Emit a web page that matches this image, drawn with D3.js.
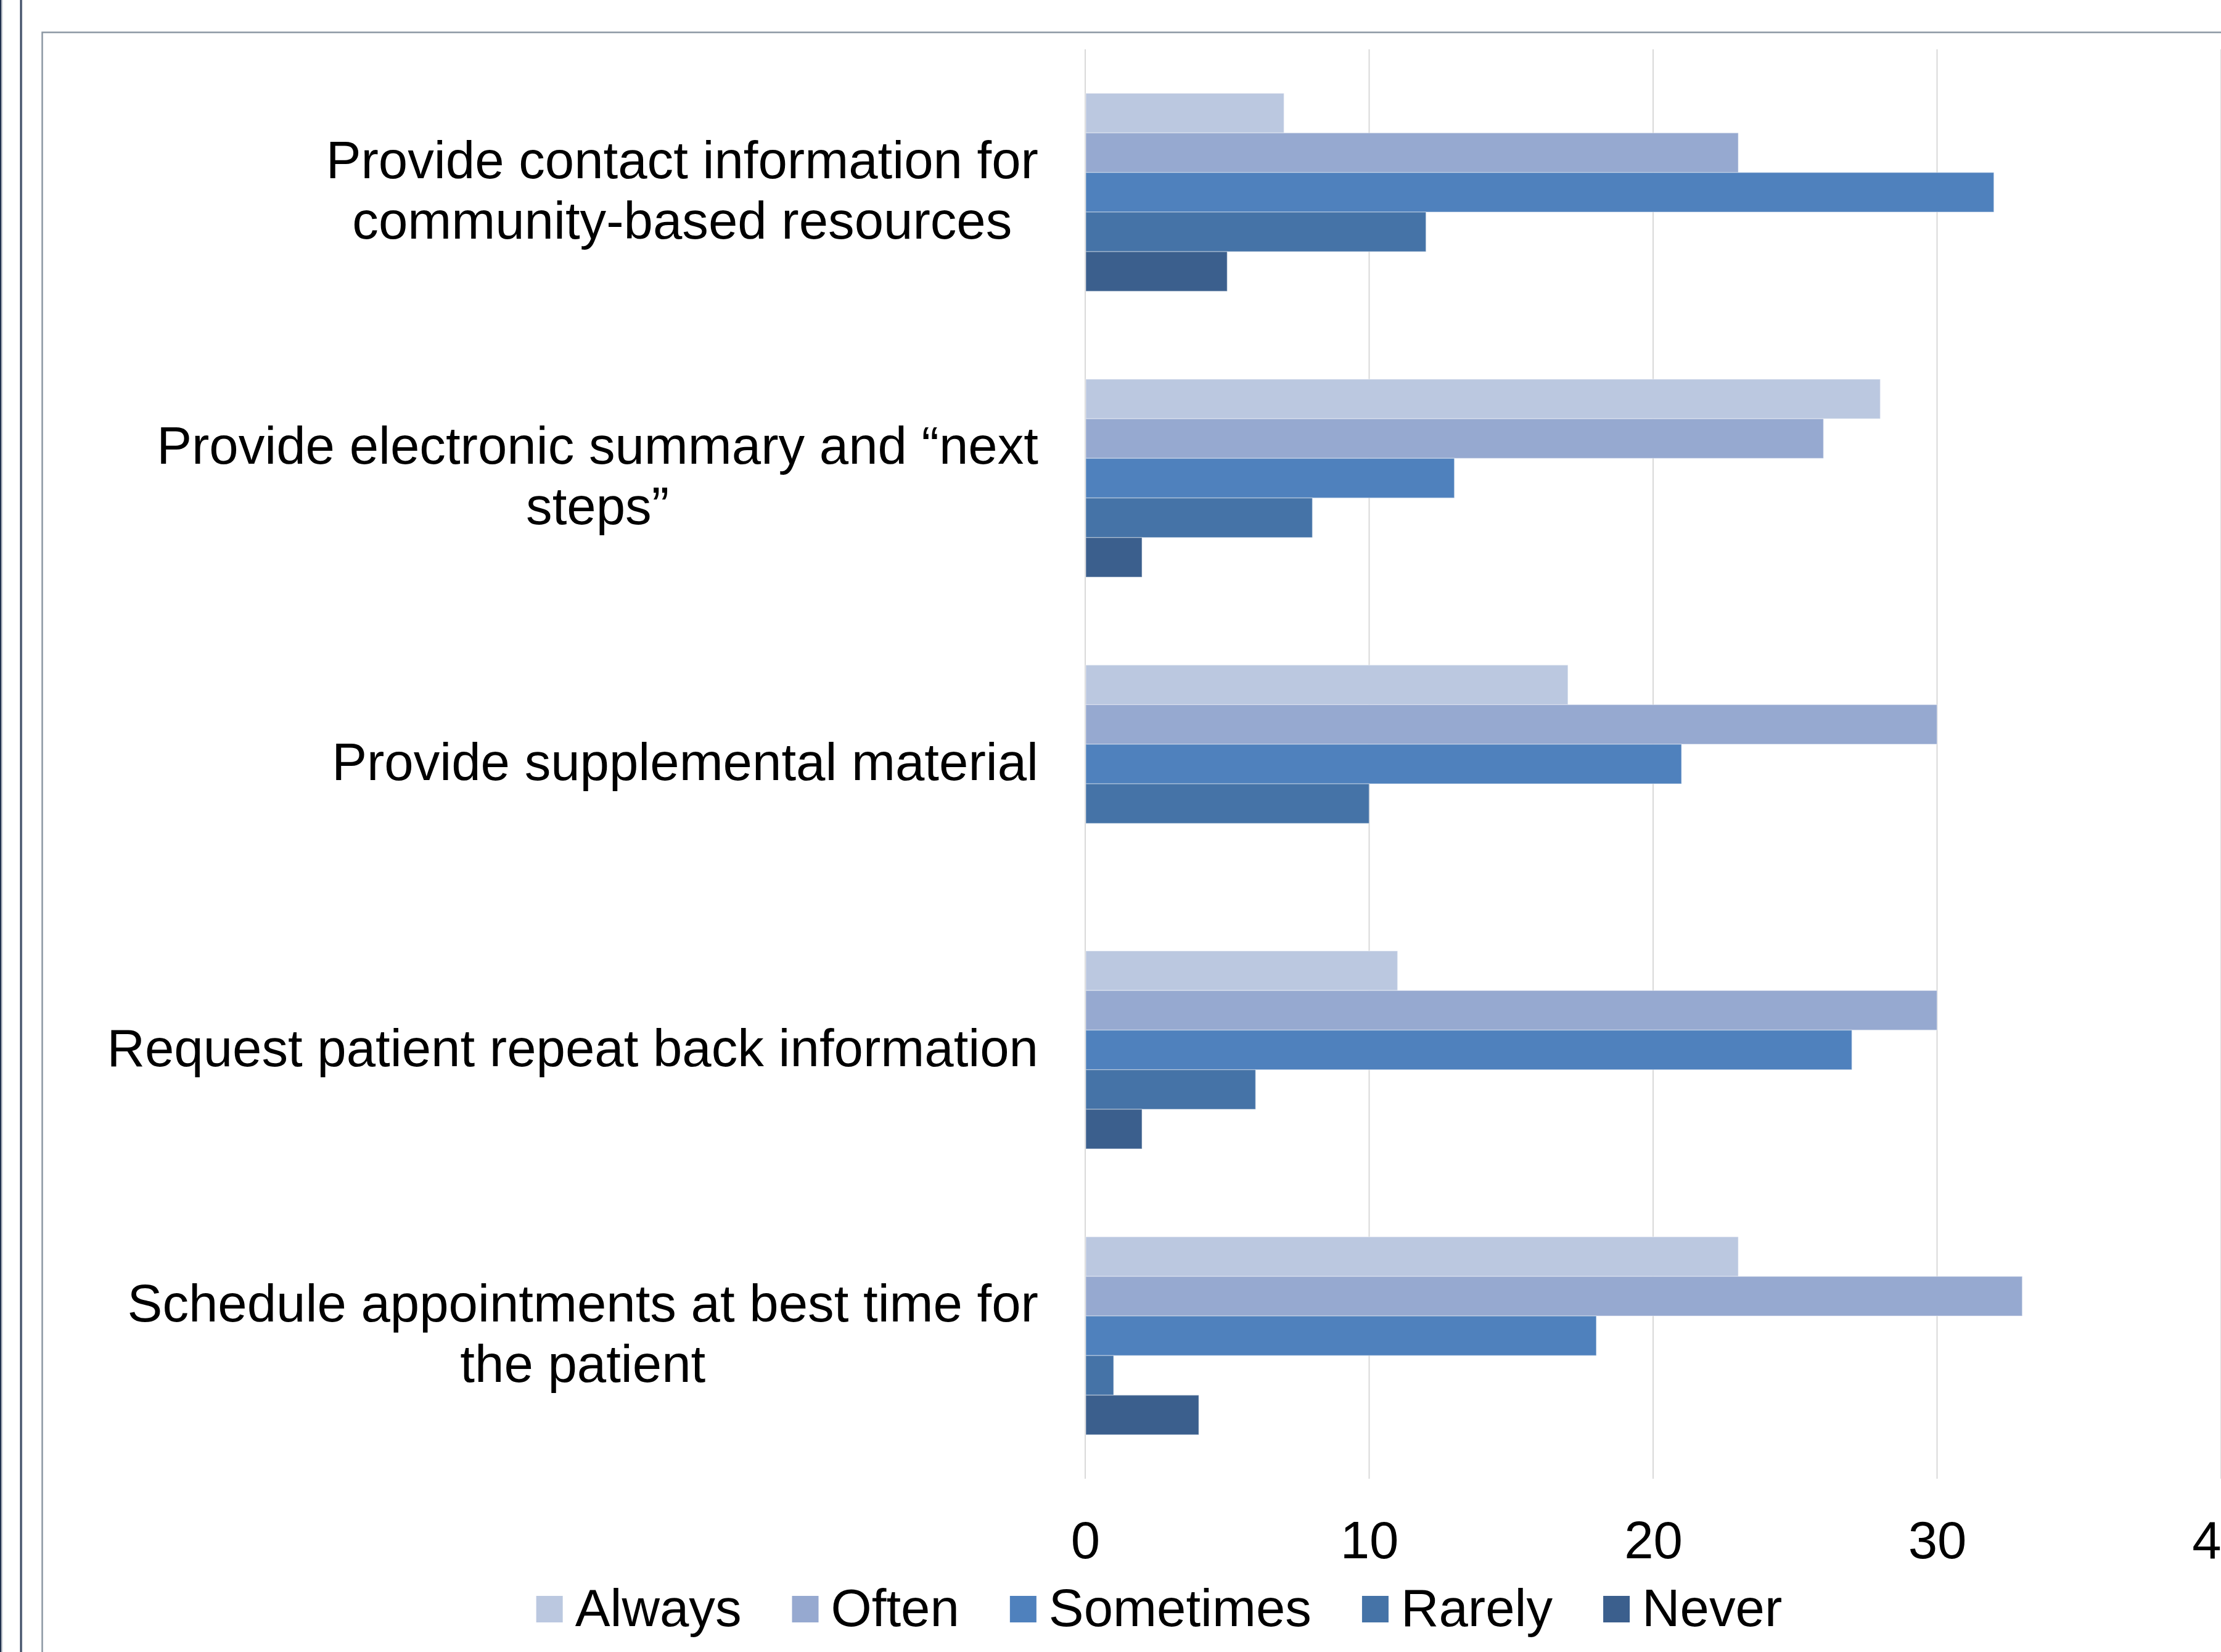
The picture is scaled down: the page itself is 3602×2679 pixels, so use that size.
<!DOCTYPE html>
<html>
<head>
<meta charset="utf-8">
<script src="https://cdn.jsdelivr.net/npm/d3@7"></script>
<style>
  html, body { margin: 0; padding: 0; background: #ffffff; }
  svg { display: block; }
  text { font-family: "Liberation Sans", Arial, sans-serif; fill: #000; }
</style>
</head>
<body>
<svg id="chart" width="3602" height="2679"></svg>
<script>
// Survey items (one group of bars per item)
const categories = [
  "Provide contact information for community-based resources",
  "Provide electronic summary and \u201cnext steps\u201d",
  "Provide supplemental material",
  "Request patient repeat back information",
  "Schedule appointments at best time for the patient"
];

// Response frequencies
const seriesNames = ["Always", "Often", "Sometimes", "Rarely", "Never"];
const seriesColors = ["#bbc8e0", "#96a9d0", "#4f81bd", "#4573a7", "#3b5f8d"];

// Counts per item, in the order of categories
const always    = [7, 28, 17, 11, 23];
const often     = [23, 26, 30, 30, 33];
const sometimes = [32, 13, 21, 27, 18];
const rarely    = [12, 8, 10, 6, 1];
const never     = [5, 2, 0, 2, 4];

const tickValues = [0, 10, 20, 30, 40];

const seriesValues = [always, often, sometimes, rarely, never];
const rows = categories.map((c, i) => ({
  category: c,
  values: seriesNames.map((s, j) => ({ series: s, value: seriesValues[j][i] }))
}));

const svg = d3.select("#chart");
const FONT = 85.2;

// Outer page decorations: double rule on the left, framed panel
svg.append("rect").attr("x", 0).attr("y", 0).attr("width", 2.5).attr("height", 2679).attr("fill", "#22334f");
svg.append("rect").attr("x", 2.5).attr("y", 0).attr("width", 2).attr("height", 2679).attr("fill", "#d0d4da");
svg.append("rect").attr("x", 31.5).attr("y", 0).attr("width", 1.5).attr("height", 2679).attr("fill", "#c9ced6");
svg.append("rect").attr("x", 33).attr("y", 0).attr("width", 2.5).attr("height", 2679).attr("fill", "#22334f");
svg.append("rect").attr("x", 35.5).attr("y", 0).attr("width", 1.5).attr("height", 2679).attr("fill", "#d4d8de");
svg.append("path")
  .attr("d", "M68.5,2700 V52.5 H3610")
  .attr("fill", "none")
  .attr("stroke", "#8b97a3")
  .attr("stroke-width", 2.5);

// Scales
const x = d3.scaleLinear().domain([0, 40]).range([1760, 3602]);
const y = d3.scaleBand().domain(categories).range([80, 2398]).paddingInner(0.3076).paddingOuter(0.1538);
const ySub = d3.scaleBand().domain(seriesNames).range([0, y.bandwidth()]);
const color = d3.scaleOrdinal().domain(seriesNames).range(seriesColors);

// Vertical gridlines
svg.append("g")
  .selectAll("line")
  .data(tickValues)
  .join("line")
  .attr("x1", d => x(d)).attr("x2", d => x(d))
  .attr("y1", 80).attr("y2", 2398)
  .attr("stroke", "#d9d9d9")
  .attr("stroke-width", 2);

// Bars
const groups = svg.append("g")
  .selectAll("g")
  .data(rows)
  .join("g")
  .attr("transform", d => `translate(0,${y(d.category)})`);

groups.selectAll("rect")
  .data(d => d.values.filter(v => v.value > 0))
  .join("rect")
  .attr("x", x(0) + 1)
  .attr("y", d => ySub(d.series))
  .attr("width", d => x(d.value) - x(0) - 1)
  .attr("height", ySub.bandwidth())
  .attr("fill", d => color(d.series))
  .attr("stroke", "#ffffff")
  .attr("stroke-opacity", 0.35)
  .attr("stroke-width", 1.5);

// Value axis labels along the bottom
const xAxis = d3.axisBottom(x).tickValues(tickValues).tickSize(0).tickPadding(0).tickFormat(d3.format("d"));
const axisG = svg.append("g").attr("transform", "translate(0,2398)").call(xAxis);
axisG.select(".domain").remove();
axisG.selectAll("text")
  .attr("y", 129)
  .attr("dy", null)
  .attr("font-size", FONT)
  .attr("font-family", "'Liberation Sans', Arial, sans-serif")
  .attr("fill", "#000");

// Category labels: wrapped, lines centred, block right-aligned to the plot
const labelRight = 1684;
const wrapWidth = 1570;
const lineGap = 98;
const measure = svg.append("text").attr("font-size", FONT).attr("visibility", "hidden");
function textWidth(s) { measure.text(s); return measure.node().getComputedTextLength(); }
function wrap(s) {
  const words = s.split(" ");
  const lines = [];
  let cur = "";
  words.forEach(w => {
    const trial = cur ? cur + " " + w : w;
    if (cur && textWidth(trial) > wrapWidth) { lines.push(cur); cur = w; }
    else cur = trial;
  });
  if (cur) lines.push(cur);
  return lines;
}

const labelG = svg.append("g");
categories.forEach(c => {
  const lines = wrap(c);
  const maxW = d3.max(lines, textWidth);
  const cx = labelRight - maxW / 2;
  const cy = y(c) + y.bandwidth() / 2;
  const t = labelG.append("text")
    .attr("font-size", FONT)
    .attr("text-anchor", "middle");
  lines.forEach((ln, i) => {
    t.append("tspan")
      .attr("x", cx)
      .attr("y", cy + 26 + (i - (lines.length - 1) / 2) * lineGap)
      .text(ln);
  });
});
measure.remove();

// Legend, centred below the axis
const legend = svg.append("g");
const sw = 43, gapAfterSwatch = 20, itemGap = 82;
const items = legend.selectAll("g").data(seriesNames).join("g");
items.append("rect")
  .attr("width", sw).attr("height", sw)
  .attr("y", 2588)
  .attr("fill", d => color(d));
items.append("text")
  .attr("font-size", FONT)
  .attr("y", 2637)
  .attr("x", sw + gapAfterSwatch)
  .text(d => d);
let cursor = 0;
const offsets = [];
items.each(function () {
  offsets.push(cursor);
  const w = d3.select(this).select("text").node().getComputedTextLength();
  cursor += sw + gapAfterSwatch + w + itemGap;
});
const totalW = cursor - itemGap;
const startX = 1880 - totalW / 2;
items.attr("transform", (d, i) => `translate(${startX + offsets[i]},0)`);
</script>
</body>
</html>
